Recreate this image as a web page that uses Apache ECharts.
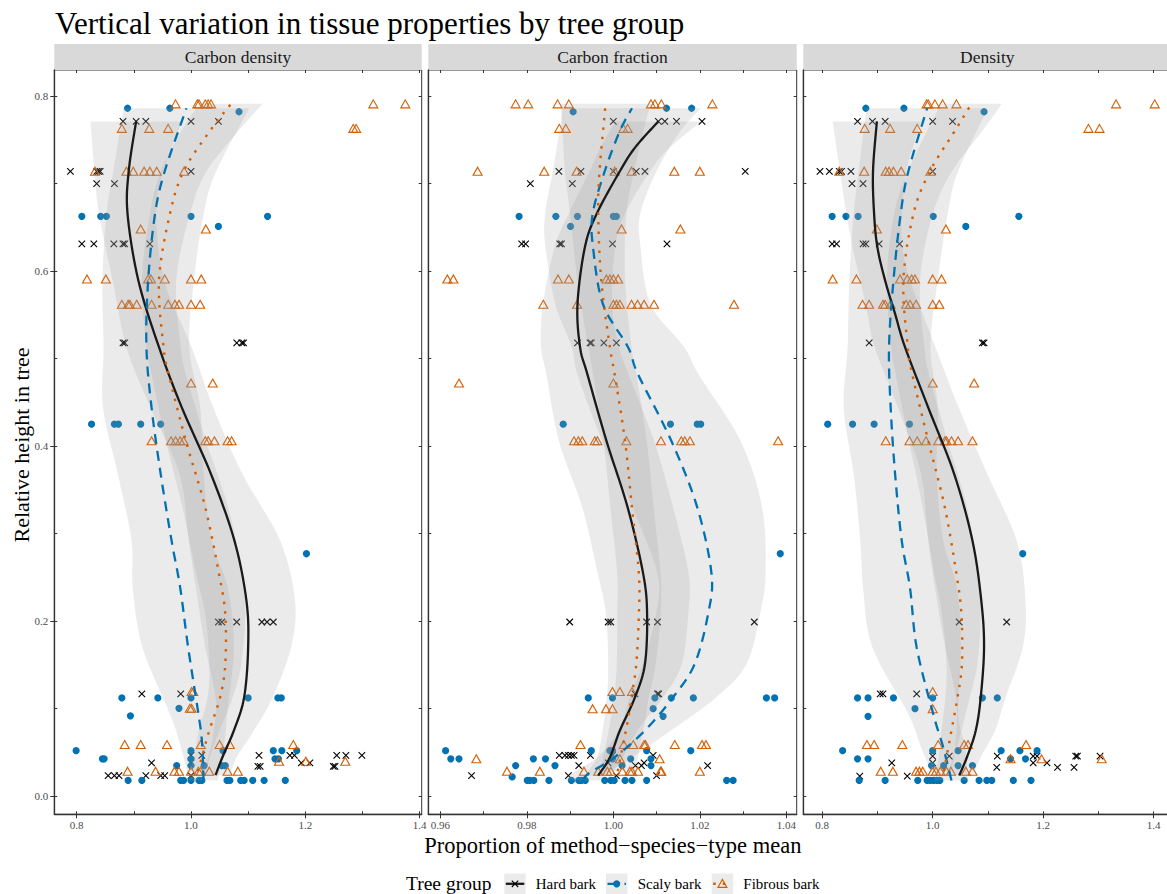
<!DOCTYPE html>
<html><head><meta charset="utf-8">
<script src="https://cdn.jsdelivr.net/npm/echarts@6/dist/echarts.min.js"></script>
<style>html,body{margin:0;padding:0;background:#fff}#c{width:1167px;height:894px}</style>
</head><body><div id="c"></div>
<script>
// ---------------- DATA ----------------
const panelNames = ['Carbon density', 'Carbon fraction', 'Density'];
const groupNames = ['Hard bark', 'Scaly bark', 'Fibrous bark'];
const xTicksCD = [0.8, 1.0, 1.2, 1.4];
const xTicksCF = [0.96, 0.98, 1.00, 1.02, 1.04];
const xTicksDN = [0.8, 1.0, 1.2, 1.4];
const xMinorCD = [0.8, 0.9, 1.0, 1.1, 1.2, 1.3, 1.4];
const xMinorCF = [0.96, 0.97, 0.98, 0.99, 1.00, 1.01, 1.02, 1.03, 1.04];
const xMinorDN = [0.8, 0.9, 1.0, 1.1, 1.2, 1.3, 1.4];
const yTicks = [0, 0.2, 0.4, 0.6, 0.8];
const yMinor = [0, 0.1, 0.2, 0.3, 0.4, 0.5, 0.6, 0.7, 0.8];
const xRangeCD = [0.7608, 1.4037];
const xRangeCF = [0.9572, 1.0424];
const xRangeDN = [0.7658, 1.432];
const yRange = [-0.0207, 0.8297];

// Carbon density points
const cdHard = [[0.881,0.771],[0.904,0.771],[0.921,0.771],[1.000,0.771],[1.048,0.771],
[0.789,0.714],[0.835,0.714],[0.838,0.714],[0.841,0.714],[1.000,0.714],
[0.835,0.700],[0.866,0.700],
[0.809,0.631],[0.830,0.631],[0.865,0.631],[0.881,0.631],[0.884,0.631],[0.928,0.631],
[0.881,0.518],[0.884,0.518],[1.080,0.518],[1.089,0.518],[1.092,0.518],
[1.048,0.199],[1.054,0.199],[1.080,0.199],[1.124,0.199],[1.133,0.199],[1.144,0.199],
[0.914,0.117],[0.982,0.117],
[1.000,0.0465],[1.019,0.0465],[1.119,0.0465],[1.173,0.0465],[1.181,0.0465],[1.255,0.0465],[1.271,0.0465],[1.299,0.0465],
[0.931,0.038],[1.000,0.038],[1.193,0.038],[1.208,0.038],
[1.117,0.034],[1.121,0.034],[1.249,0.034],[1.252,0.034],
[0.855,0.0236],[0.866,0.0236],[0.874,0.0236],[0.921,0.0236],[0.947,0.0236],[0.954,0.0236],[1.000,0.0236]];
const cdScaly = [[0.889,0.786],[0.963,0.786],[1.084,0.782],
[0.809,0.6625],[0.842,0.6625],[0.852,0.6625],[1.000,0.6625],[1.134,0.6625],
[1.048,0.651],
[0.826,0.425],[0.866,0.425],[0.873,0.425],[0.912,0.425],[0.947,0.425],
[1.202,0.277],
[0.879,0.1123],[0.942,0.1123],[1.000,0.1123],[1.100,0.1123],[1.152,0.1123],[1.158,0.1123],
[0.979,0.1004],[0.894,0.0918],
[0.799,0.052],[1.000,0.052],[1.056,0.052],[1.144,0.052],[1.159,0.052],[1.185,0.052],
[0.845,0.0427],[0.848,0.0427],[1.000,0.0427],[1.147,0.0427],[1.153,0.0427],
[0.975,0.035],[1.000,0.035],[1.023,0.035],[1.054,0.035],[1.060,0.035],
[0.890,0.018],[0.914,0.018],[0.982,0.018],[0.987,0.018],[1.000,0.018],[1.014,0.018],[1.019,0.018],[1.063,0.018],[1.068,0.018],[1.087,0.018],[1.093,0.018],[1.108,0.018],[1.128,0.018],[1.165,0.018]];
const cdFibrous = [[0.973,0.791],[1.011,0.791],[1.014,0.791],[1.025,0.791],[1.030,0.791],[1.035,0.791],[1.319,0.791],[1.375,0.791],
[0.879,0.763],[0.927,0.763],[0.960,0.763],[1.284,0.763],[1.289,0.763],
[0.832,0.714],[0.887,0.714],[0.899,0.714],[0.918,0.714],[0.928,0.714],[0.940,0.714],[0.988,0.714],
[0.912,0.648],[1.026,0.648],
[0.818,0.591],[0.851,0.591],[0.925,0.591],[0.930,0.591],[0.954,0.591],[1.000,0.591],[1.018,0.591],
[0.879,0.562],[0.890,0.562],[0.893,0.562],[0.905,0.562],[0.931,0.562],[0.960,0.562],[0.972,0.562],[0.979,0.562],[1.000,0.562],[1.016,0.562],
[1.000,0.472],[1.038,0.472],
[0.931,0.406],[0.965,0.406],[0.973,0.406],[0.981,0.406],[0.987,0.406],[1.025,0.406],[1.030,0.406],[1.041,0.406],[1.064,0.406],[1.071,0.406],
[1.001,0.1195],[1.004,0.1195],[0.998,0.1004],[1.001,0.1004],
[0.884,0.059],[0.912,0.059],[0.958,0.059],[1.017,0.059],[1.050,0.059],[1.068,0.059],[1.179,0.059],
[1.154,0.040],[1.201,0.040],[1.270,0.040],
[0.889,0.0285],[0.938,0.0285],[0.971,0.0285],[0.979,0.0285],[1.000,0.0285],[1.013,0.0285],[1.017,0.0285],[1.032,0.0285],[1.064,0.0285],[1.082,0.0285]];
// Carbon density smooth fits [x, y] and half-widths of the confidence band
const cdHardFit = [[1.043,0.024],[1.055,0.0445],[1.075,0.075],[1.093,0.113],[1.100,0.170],[1.097,0.2234],[1.076,0.292],[1.035,0.368],[0.984,0.444],[0.944,0.513],[0.908,0.589],[0.889,0.665],[0.891,0.714],[0.904,0.771]];
const cdHardSE = [0.025,0.025,0.035,0.05,0.075,0.085,0.08,0.055,0.055,0.057,0.045,0.05,0.06,0.08];
const cdScalyFit = [[1.022,0.018],[1.019,0.0636],[1.013,0.094],[0.995,0.170],[0.981,0.2386],[0.966,0.292],[0.947,0.368],[0.931,0.444],[0.922,0.513],[0.925,0.589],[0.937,0.665],[0.954,0.714],[0.992,0.786]];
const cdScalySE = [0.025,0.04,0.05,0.08,0.083,0.07,0.075,0.085,0.075,0.08,0.085,0.09,0.11];
const cdFibrousFit = [[1.012,0.0285],[1.019,0.0445],[1.032,0.075],[1.051,0.113],[1.060,0.151],[1.060,0.208],[1.049,0.254],[1.025,0.330],[0.991,0.406],[0.961,0.482],[0.952,0.513],[0.944,0.589],[0.963,0.665],[0.987,0.714],[1.033,0.760],[1.070,0.791]];
const cdFibrousSE = [0.015,0.014,0.018,0.022,0.028,0.035,0.04,0.04,0.035,0.03,0.03,0.03,0.035,0.04,0.05,0.055];

// Carbon fraction points
const cfHard = [[1.000,0.771],[1.0104,0.771],[1.0119,0.771],[1.0146,0.771],[1.0205,0.771],
[0.9874,0.714],[0.9925,0.714],[1.000,0.714],[1.0053,0.714],[1.0073,0.714],[1.0305,0.714],
[0.9808,0.700],[0.9905,0.700],
[0.9788,0.631],[0.9797,0.631],[0.9876,0.631],[0.9880,0.631],[0.9998,0.631],[1.0124,0.631],
[0.9917,0.518],[0.9946,0.518],[0.9949,0.518],[0.9978,0.518],[1.0007,0.518],
[0.9899,0.199],[0.9988,0.199],[0.9994,0.199],[1.0077,0.199],[1.0102,0.199],[1.0326,0.199],
[1.0050,0.117],[1.0102,0.117],[1.0105,0.117],
[0.9875,0.0465],[0.9888,0.0465],[0.9896,0.0465],[0.9903,0.0465],[0.9909,0.0465],[0.9947,0.0465],[0.9998,0.0465],[1.0092,0.0465],
[0.9988,0.038],[1.0071,0.038],[0.9920,0.035],[1.0051,0.035],[1.0065,0.035],[1.0218,0.035],
[0.9672,0.0236],[0.9896,0.0236],[1.0007,0.0236],[1.0100,0.0236]];
const cfScaly = [[1.0123,0.786],[1.0181,0.786],[0.9907,0.782],
[0.9782,0.6625],[0.9867,0.6625],[0.9917,0.6625],[1.000,0.6625],[1.0007,0.6625],
[0.9901,0.651],
[0.9884,0.425],[1.0132,0.425],[1.0194,0.425],[1.0202,0.425],
[1.0386,0.277],
[0.9942,0.1123],[0.9998,0.1123],[1.0096,0.1123],[1.0134,0.1123],[1.0185,0.1123],[1.0354,0.1123],[1.0373,0.1123],
[1.0092,0.1],[1.0115,0.0913],
[0.9612,0.052],[0.9949,0.052],[0.9992,0.052],[0.9998,0.052],[1.0077,0.052],[1.0179,0.052],
[0.9624,0.0427],[0.9643,0.0427],[0.9815,0.0427],[0.9843,0.0427],[0.9998,0.0427],[1.0040,0.0427],[1.0087,0.0427],
[0.9774,0.035],[0.9865,0.035],[1.0020,0.035],[1.0087,0.035],
[0.9766,0.022],
[0.9801,0.018],[0.9807,0.018],[0.9816,0.018],[0.9851,0.018],[0.9903,0.018],[0.9920,0.018],[0.9926,0.018],[0.9935,0.018],[0.9980,0.018],[0.9994,0.018],[1.0002,0.018],[1.0027,0.018],[1.0043,0.018],[1.0077,0.018],[1.0262,0.018],[1.0277,0.018]];
const cfFibrous = [[0.9774,0.791],[0.9803,0.791],[0.9871,0.791],[0.9897,0.791],[1.0087,0.791],[1.0096,0.791],[1.0111,0.791],[1.0229,0.791],
[0.9875,0.763],[0.9890,0.763],[1.0023,0.763],[1.0033,0.763],
[0.9686,0.714],[0.9840,0.714],[0.9915,0.714],[1.0003,0.714],[1.0042,0.714],[1.0141,0.714],[1.0200,0.714],
[1.0019,0.648],[1.0155,0.648],
[0.9616,0.591],[0.9630,0.591],[0.9872,0.591],[0.9897,0.591],[0.9984,0.591],[0.9992,0.591],[1.0000,0.591],[1.0011,0.591],
[0.9838,0.562],[0.9916,0.562],[1.0000,0.562],[1.0007,0.562],[1.0015,0.562],[1.0042,0.562],[1.0056,0.562],[1.0071,0.562],[1.0094,0.562],[1.0279,0.562],
[0.9643,0.472],[1.0000,0.472],
[0.9909,0.406],[0.9919,0.406],[0.9928,0.406],[0.9957,0.406],[0.9963,0.406],[1.0030,0.406],[1.0110,0.406],[1.0157,0.406],[1.0165,0.406],[1.0177,0.406],[1.0381,0.406],
[0.9998,0.1195],[1.0015,0.1195],[1.0043,0.1195],
[0.9952,0.1],[0.9983,0.1],[0.9998,0.1],
[0.9924,0.059],[1.0024,0.059],[1.0046,0.059],[1.0071,0.059],[1.0074,0.059],[1.0142,0.059],[1.0205,0.059],[1.0214,0.059],
[0.9683,0.0427],[1.0015,0.0427],[1.0107,0.0427],
[0.9754,0.0285],[0.9830,0.0285],[0.9932,0.0285],[0.9965,0.0285],[0.9986,0.0285],[0.9994,0.0285],[1.0021,0.0285],[1.0038,0.0285],[1.0043,0.0285],[1.0057,0.0285],[1.0109,0.0285],[1.0111,0.0285],[1.0200,0.0285]];
const cfHardFit = [[0.9965,0.0236],[0.9992,0.0445],[1.0015,0.075],[1.0050,0.113],[1.0073,0.151],[1.0078,0.208],[1.0069,0.254],[1.0033,0.330],[0.9984,0.406],[0.9940,0.482],[0.9923,0.513],[0.9917,0.562],[0.9934,0.627],[0.9961,0.665],[1.0015,0.714],[1.0050,0.741],[1.0104,0.771]];
const cfHardSE = [0.003,0.003,0.004,0.0065,0.0085,0.0095,0.0105,0.0105,0.011,0.0095,0.009,0.008,0.007,0.0065,0.007,0.008,0.010];
const cfScalyFit = [[0.9930,0.018],[0.9942,0.0256],[1.0003,0.0445],[1.0073,0.075],[1.0138,0.113],[1.0188,0.151],[1.0219,0.208],[1.0227,0.254],[1.0194,0.330],[1.0134,0.406],[1.0057,0.482],[1.0034,0.513],[0.9976,0.562],[0.9953,0.627],[0.9952,0.665],[0.9980,0.714],[1.0015,0.760],[1.0043,0.786]];
const cfScalySE = [0.004,0.004,0.004,0.006,0.01,0.012,0.012,0.0125,0.015,0.016,0.014,0.013,0.011,0.011,0.011,0.012,0.014,0.016];
const cfFibrousFit = [[1.0010,0.0285],[1.0032,0.0826],[1.0042,0.113],[1.0053,0.151],[1.0059,0.208],[1.0059,0.254],[1.0043,0.330],[1.0027,0.406],[1.0003,0.482],[0.9992,0.513],[0.9972,0.589],[0.9965,0.665],[0.9968,0.714],[0.9980,0.780],[0.9982,0.791]];
const cfFibrousSE = [0.004,0.004,0.004,0.0045,0.005,0.005,0.005,0.005,0.005,0.005,0.0055,0.0065,0.008,0.010,0.011];

// Density points
const dnHard = [[0.864,0.771],[0.891,0.771],[0.914,0.771],[1.000,0.771],[1.036,0.771],
[0.796,0.714],[0.813,0.714],[0.831,0.714],[0.835,0.714],[0.852,0.714],[1.000,0.714],
[0.854,0.700],[0.874,0.700],
[0.818,0.631],[0.826,0.631],[0.874,0.631],[0.879,0.631],[0.903,0.631],[0.940,0.631],
[0.885,0.518],[1.090,0.518],[1.093,0.518],
[1.048,0.199],[1.134,0.199],
[0.905,0.117],[0.910,0.117],[0.971,0.117],
[1.000,0.0457],[1.030,0.0457],[1.117,0.0457],[1.182,0.0457],[1.189,0.0457],[1.259,0.0457],[1.262,0.0457],[1.303,0.0457],
[0.926,0.038],[1.000,0.038],[1.182,0.038],[1.207,0.038],
[1.116,0.033],[1.226,0.033],[1.256,0.033],
[0.868,0.0228],[0.954,0.0228]];
const dnScaly = [[0.879,0.786],[0.948,0.786],[1.093,0.782],
[0.818,0.6625],[0.843,0.6625],[0.865,0.6625],[1.001,0.6625],[1.156,0.6625],
[1.060,0.651],
[0.810,0.425],[0.855,0.425],[0.894,0.425],[0.958,0.425],
[1.163,0.277],
[0.864,0.1123],[0.883,0.1123],[0.929,0.1123],[1.000,0.1123],[1.090,0.1123],[1.117,0.1123],
[0.968,0.1],[0.883,0.0913],
[0.837,0.052],[1.000,0.052],[1.046,0.052],[1.124,0.052],[1.158,0.052],[1.189,0.052],
[0.864,0.0427],[0.883,0.0427],[1.141,0.0427],[1.168,0.0427],
[0.998,0.035],[1.020,0.035],[1.046,0.035],[1.072,0.035],
[0.867,0.018],[0.914,0.018],[0.973,0.018],[0.990,0.018],[0.996,0.018],[1.002,0.018],[1.008,0.018],[1.013,0.018],[1.057,0.018],[1.084,0.018],[1.098,0.018],[1.107,0.018],[1.146,0.018],[1.178,0.018]];
const dnFibrous = [[0.989,0.791],[0.992,0.791],[1.004,0.791],[1.018,0.791],[1.043,0.791],[1.332,0.791],[1.402,0.791],
[0.877,0.763],[0.923,0.763],[0.972,0.763],[1.282,0.763],[1.302,0.763],
[0.831,0.714],[0.876,0.714],[0.915,0.714],[0.921,0.714],[0.929,0.714],[0.943,0.714],[0.996,0.714],
[0.899,0.648],[1.024,0.648],
[0.819,0.591],[0.862,0.591],[0.941,0.591],[0.954,0.591],[0.962,0.591],[0.968,0.591],[1.000,0.591],[1.016,0.591],
[0.873,0.562],[0.885,0.562],[0.910,0.562],[0.914,0.562],[0.924,0.562],[0.952,0.562],[0.959,0.562],[0.970,0.562],[1.000,0.562],[1.012,0.562],
[1.000,0.472],[1.075,0.472],
[0.915,0.406],[0.958,0.406],[0.972,0.406],[0.988,0.406],[1.010,0.406],[1.022,0.406],[1.025,0.406],[1.034,0.406],[1.046,0.406],[1.072,0.406],
[1.000,0.1195],[1.000,0.1],
[0.881,0.059],[0.894,0.059],[0.945,0.059],[1.010,0.059],[1.057,0.059],[1.064,0.059],[1.169,0.059],
[1.141,0.0427],[1.197,0.0427],[1.306,0.0427],
[0.906,0.0285],[0.928,0.0285],[0.970,0.0285],[0.976,0.0285],[0.982,0.0285],[1.000,0.0285],[1.006,0.0285],[1.014,0.0285],[1.025,0.0285],[1.033,0.0285],[1.060,0.0285],[1.072,0.0285]];
const dnHardFit = [[1.048,0.0236],[1.062,0.0445],[1.078,0.075],[1.087,0.113],[1.093,0.170],[1.088,0.2234],[1.072,0.292],[1.039,0.368],[0.992,0.444],[0.950,0.513],[0.932,0.551],[0.914,0.589],[0.900,0.627],[0.894,0.665],[0.892,0.714],[0.899,0.771]];
const dnHardSE = [0.025,0.025,0.035,0.045,0.07,0.08,0.08,0.06,0.055,0.055,0.05,0.045,0.045,0.05,0.06,0.08];
const dnScalyFit = [[1.034,0.018],[1.019,0.056],[1.001,0.094],[0.971,0.170],[0.959,0.238],[0.944,0.292],[0.932,0.368],[0.924,0.444],[0.921,0.513],[0.929,0.589],[0.942,0.665],[0.956,0.714],[0.990,0.786]];
const dnScalySE = [0.03,0.04,0.045,0.08,0.085,0.075,0.075,0.085,0.075,0.08,0.085,0.09,0.11];
const dnFibrousFit = [[1.020,0.0285],[1.025,0.0445],[1.034,0.075],[1.045,0.113],[1.053,0.151],[1.052,0.208],[1.043,0.254],[1.022,0.330],[0.992,0.406],[0.963,0.482],[0.955,0.513],[0.947,0.589],[0.965,0.665],[0.995,0.714],[1.040,0.760],[1.070,0.791]];
const dnFibrousSE = [0.015,0.014,0.018,0.022,0.028,0.035,0.04,0.04,0.035,0.03,0.03,0.03,0.035,0.04,0.05,0.055];

// ---------------- LAYOUT / STYLE ----------------
const FONT = "'Liberation Serif','Times New Roman',Times,serif";
const GL = [54.3, 428.3, 803.3], GW = [367.4, 368.4, 368], GT = 70, GH = 744.3;
const COL = ['#000000', '#0072B2', '#D55E00'];
const BAND = 'rgba(153,153,153,0.2)';
const LINE_STYLES = [
  {stroke: '#1a1a1a', lineWidth: 2.3, lineDash: null},
  {stroke: COL[1], lineWidth: 2.3, lineDash: [10, 7]},
  {stroke: COL[2], lineWidth: 2.4, lineDash: [2.5, 7]}
];

const panels = [
  {name: panelNames[0], xr: xRangeCD, xt: xTicksCD, xm: xMinorCD, dec: 1,
   pts: [cdHard, cdScaly, cdFibrous], fits: [cdHardFit, cdScalyFit, cdFibrousFit], se: [cdHardSE, cdScalySE, cdFibrousSE]},
  {name: panelNames[1], xr: xRangeCF, xt: xTicksCF, xm: xMinorCF, dec: 2,
   pts: [cfHard, cfScaly, cfFibrous], fits: [cfHardFit, cfScalyFit, cfFibrousFit], se: [cfHardSE, cfScalySE, cfFibrousSE]},
  {name: panelNames[2], xr: xRangeDN, xt: xTicksDN, xm: xMinorDN, dec: 1,
   pts: [dnHard, dnScaly, dnFibrous], fits: [dnHardFit, dnScalyFit, dnFibrousFit], se: [dnHardSE, dnScalySE, dnFibrousSE]}
];

// Catmull-Rom through pixel points (rendering of the smooth curve only)
function catmull(pts, steps) {
  const out = [pts[0]];
  for (let i = 0; i < pts.length - 1; i++) {
    const p0 = pts[Math.max(i - 1, 0)], p1 = pts[i], p2 = pts[i + 1], p3 = pts[Math.min(i + 2, pts.length - 1)];
    for (let s = 1; s <= steps; s++) {
      const t = s / steps, t2 = t * t, t3 = t2 * t;
      const f = (a, b, c, d) => 0.5 * ((2 * b) + (-a + c) * t + (2 * a - 5 * b + 4 * c - d) * t2 + (-a + 3 * b - 3 * c + d) * t3);
      out.push([f(p0[0], p1[0], p2[0], p3[0]), f(p0[1], p1[1], p2[1], p3[1])]);
    }
  }
  return out;
}

const grid = [], xAxis = [], yAxis = [], series = [], graphic = [];
const tickLine = {color: '#333', width: 1};
const lblStyle = {color: '#4d4d4d', fontSize: 11, fontFamily: FONT};

panels.forEach((p, i) => {
  grid.push({left: GL[i], top: GT, width: GW[i], height: GH, show: true, borderColor: '#333', borderWidth: 1,
             backgroundColor: '#fff', containLabel: false, outerBoundsMode: 'none'});
  const xb = xAxis.length, yb = yAxis.length;
  const xbase = {type: 'value', gridIndex: i, min: p.xr[0], max: p.xr[1], splitLine: {show: false}, axisPointer: {show: false}};
  xAxis.push(Object.assign({}, xbase, {position: 'bottom',
    axisLine: {show: true, onZero: false, lineStyle: {color: '#333', width: 1.3}},
    axisTick: {show: true, length: 4, customValues: p.xt, lineStyle: tickLine},
    axisLabel: Object.assign({customValues: p.xt, formatter: v => v.toFixed(p.dec), margin: 5}, lblStyle)}));
  xAxis.push(Object.assign({}, xbase, {position: 'bottom', axisLine: {show: false, onZero: false},
    axisTick: {show: true, inside: true, length: 3, customValues: p.xm, lineStyle: tickLine}, axisLabel: {show: false}}));
  xAxis.push(Object.assign({}, xbase, {position: 'top', axisLine: {show: false, onZero: false},
    axisTick: {show: true, inside: true, length: 3, customValues: p.xm, lineStyle: tickLine}, axisLabel: {show: false}}));
  const ybase = {type: 'value', gridIndex: i, min: yRange[0], max: yRange[1], splitLine: {show: false}, axisPointer: {show: false}};
  yAxis.push(Object.assign({}, ybase, {position: 'left',
    axisLine: {show: true, onZero: false, lineStyle: {color: '#333', width: 1.3}},
    axisTick: {show: i === 0, length: 4, customValues: yTicks, lineStyle: tickLine},
    axisLabel: Object.assign({show: i === 0, customValues: yTicks, formatter: v => v.toFixed(1), margin: 6}, lblStyle)}));
  yAxis.push(Object.assign({}, ybase, {position: 'left', axisLine: {show: false, onZero: false},
    axisTick: {show: true, inside: true, length: 3, customValues: yMinor, lineStyle: tickLine}, axisLabel: {show: false}}));
  yAxis.push(Object.assign({}, ybase, {position: 'right', axisLine: {show: false, onZero: false},
    axisTick: {show: true, inside: true, length: 3, customValues: yMinor, lineStyle: tickLine}, axisLabel: {show: false}}));

  // points
  series.push({type: 'scatter', name: groupNames[0], xAxisIndex: xb, yAxisIndex: yb, data: p.pts[0], silent: true, z: 2,
    symbol: 'path://M0,0L10,10M0,10L10,0', symbolSize: 6.5,
    itemStyle: {color: 'rgba(0,0,0,0)', borderColor: '#000', borderWidth: 1.1, opacity: 1}});
  series.push({type: 'scatter', name: groupNames[1], xAxisIndex: xb, yAxisIndex: yb, data: p.pts[1], silent: true, z: 2,
    symbol: 'circle', symbolSize: 7.2, itemStyle: {color: COL[1], opacity: 1}});
  series.push({type: 'scatter', name: groupNames[2], xAxisIndex: xb, yAxisIndex: yb, data: p.pts[2], silent: true, z: 2,
    symbol: 'triangle', symbolSize: [9, 8],
    itemStyle: {color: 'rgba(0,0,0,0)', borderColor: COL[2], borderWidth: 1.1, opacity: 1}});

  // confidence bands
  [0, 1, 2].forEach(g => {
    const fit = p.fits[g], se = p.se[g];
    series.push({type: 'custom', xAxisIndex: xb, yAxisIndex: yb, silent: true, z: 3, clip: true,
      data: [[fit[0][0], fit[0][1]]],
      renderItem: (params, api) => {
        const lo = fit.map((q, k) => api.coord([q[0] - se[k], q[1]]));
        const hi = fit.map((q, k) => api.coord([q[0] + se[k], q[1]])).reverse();
        const pts = catmull(lo, 8).concat(catmull(hi, 8));
        return {type: 'polygon', shape: {points: pts}, style: {fill: BAND, stroke: null}};
      }});
  });

  // smooth fitted lines
  [0, 1, 2].forEach(g => {
    const fit = p.fits[g], st = LINE_STYLES[g];
    series.push({type: 'custom', name: groupNames[g], xAxisIndex: xb, yAxisIndex: yb, silent: true, z: 4, clip: true,
      data: [[fit[0][0], fit[0][1]]],
      renderItem: (params, api) => {
        const pts = catmull(fit.map(q => api.coord(q)), 10);
        return {type: 'polyline', shape: {points: pts},
          style: {stroke: st.stroke, lineWidth: st.lineWidth, lineDash: st.lineDash, fill: null, lineCap: 'butt'}};
      }});
  });

  // strip
  graphic.push({type: 'rect', silent: true, shape: {x: GL[i], y: 44, width: GW[i], height: 26}, style: {fill: '#d9d9d9'}});
  graphic.push({type: 'text', silent: true, x: GL[i] + GW[i] / 2, y: 57,
    style: {text: p.name, fontSize: 17.5, fontFamily: FONT, fill: '#1a1a1a', align: 'center', verticalAlign: 'middle'}});
});

// axis titles
graphic.push({type: 'text', silent: true, x: 612.8, y: 845,
  style: {text: 'Proportion of method\u2212species\u2212type mean', fontSize: 22.5, fontFamily: FONT, fill: '#000', align: 'center', verticalAlign: 'middle'}});
graphic.push({type: 'text', silent: true, x: 21, y: 445, rotation: Math.PI / 2,
  style: {text: 'Relative height in tree', fontSize: 22, fontFamily: FONT, fill: '#000', align: 'center', verticalAlign: 'middle'}});

// legend
const LY = 883.8;
graphic.push({type: 'text', silent: true, x: 406, y: LY,
  style: {text: 'Tree group', fontSize: 19.5, fontFamily: FONT, fill: '#000', align: 'left', verticalAlign: 'middle'}});
const keys = [{x: 504.3, tx: 535.7}, {x: 606, tx: 637.7}, {x: 711.7, tx: 743.3}];
keys.forEach((k, g) => {
  const cx = k.x + 10.7;
  graphic.push({type: 'rect', silent: true, shape: {x: k.x, y: 873.5, width: 21.4, height: 21.4}, style: {fill: '#ebebeb'}});
  const st = LINE_STYLES[g];
  graphic.push({type: 'line', silent: true, shape: {x1: k.x + 1.5, y1: LY, x2: k.x + 20, y2: LY},
    style: {stroke: st.stroke, lineWidth: st.lineWidth, lineDash: st.lineDash}});
  if (g === 0) {
    graphic.push({type: 'line', silent: true, shape: {x1: cx - 3.2, y1: LY - 3.2, x2: cx + 3.2, y2: LY + 3.2}, style: {stroke: '#000', lineWidth: 1.1}});
    graphic.push({type: 'line', silent: true, shape: {x1: cx - 3.2, y1: LY + 3.2, x2: cx + 3.2, y2: LY - 3.2}, style: {stroke: '#000', lineWidth: 1.1}});
  } else if (g === 1) {
    graphic.push({type: 'circle', silent: true, shape: {cx: cx, cy: LY, r: 3.6}, style: {fill: COL[1]}});
  } else {
    graphic.push({type: 'polygon', silent: true, shape: {points: [[cx - 4.5, LY + 3.6], [cx + 4.5, LY + 3.6], [cx, LY - 4.4]]},
      style: {fill: 'none', stroke: COL[2], lineWidth: 1.1}});
  }
  graphic.push({type: 'text', silent: true, x: k.tx, y: LY,
    style: {text: groupNames[g], fontSize: 15, fontFamily: FONT, fill: '#000', align: 'left', verticalAlign: 'middle'}});
});

const chart = echarts.init(document.getElementById('c'), null, {renderer: 'svg'});
chart.setOption({
  animation: false,
  backgroundColor: '#fff',
  title: {text: 'Vertical variation in tissue properties by tree group', left: 55, top: 8, padding: 0,
    textStyle: {fontFamily: FONT, fontSize: 31, fontWeight: 'normal', color: '#000'}},
  tooltip: {show: false},
  grid: grid, xAxis: xAxis, yAxis: yAxis, series: series, graphic: graphic
});
</script></body></html>
